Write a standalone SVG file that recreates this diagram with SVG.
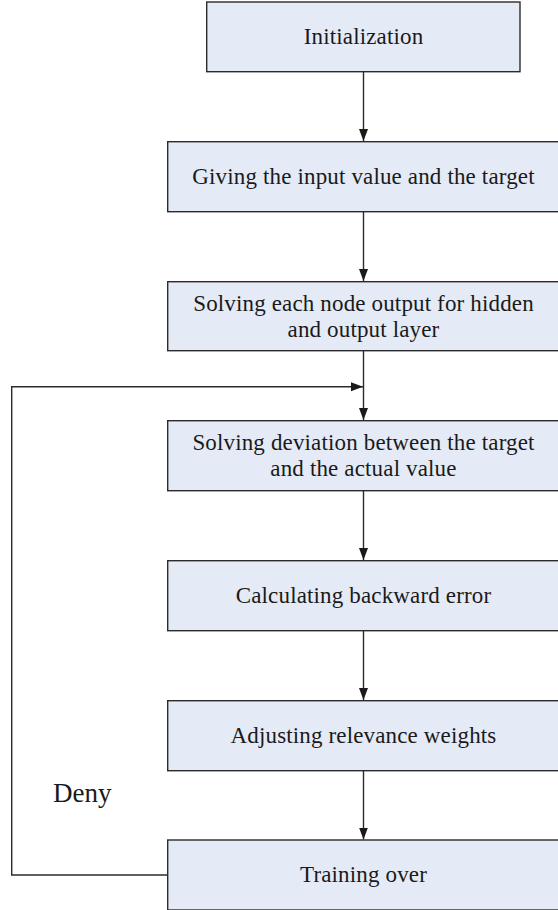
<svg xmlns="http://www.w3.org/2000/svg" width="558" height="910" viewBox="0 0 558 910">
<style>
.box{fill:#e5ebf6;stroke:#2b2b2b;stroke-width:1.4}
.t{font-family:"Liberation Serif","Times New Roman",serif;font-size:23px;fill:#1a1a1a;text-anchor:middle;letter-spacing:0.15px}
.lbl{font-family:"Liberation Serif","Times New Roman",serif;font-size:27px;fill:#1a1a1a}
.c{fill:none;stroke:#2b2b2b;stroke-width:1.4}
</style>
<defs>
<marker id="ah" markerUnits="userSpaceOnUse" markerWidth="12" markerHeight="12" viewBox="0 0 12 12" refX="12" refY="6" orient="auto">
<path d="M0,1.5 L12,6 L0,10.5 Z" fill="#1a1a1a"/>
</marker>
</defs>
<rect width="558" height="910" fill="#ffffff"/>
<g id="connectors">
<line class="c" x1="363.5" y1="71.7" x2="363.5" y2="141" marker-end="url(#ah)"/>
<line class="c" x1="363.5" y1="211.7" x2="363.5" y2="281" marker-end="url(#ah)"/>
<line class="c" x1="363.5" y1="350.7" x2="363.5" y2="420" marker-end="url(#ah)"/>
<line class="c" x1="363.5" y1="490.7" x2="363.5" y2="560" marker-end="url(#ah)"/>
<line class="c" x1="363.5" y1="630.7" x2="363.5" y2="700" marker-end="url(#ah)"/>
<line class="c" x1="363.5" y1="770.7" x2="363.5" y2="839.5" marker-end="url(#ah)"/>
<polyline class="c" points="167.7,875 11.7,875 11.7,386.7 363,386.7" marker-end="url(#ah)"/>
</g>
<g id="n1"><rect class="box" x="206.7" y="2" width="313.3" height="69.7"/><text class="t" x="363.5" y="44.3">Initialization</text></g>
<g id="n2"><rect class="box" x="167.7" y="141.7" width="392" height="70"/><text class="t" x="363.5" y="184">Giving the input value and the target</text></g>
<g id="n3"><rect class="box" x="167.7" y="281.7" width="392" height="69"/><text class="t" x="363.5" y="310.7">Solving each node output for hidden</text><text class="t" x="363.5" y="336.7">and output layer</text></g>
<g id="n4"><rect class="box" x="167.7" y="420.7" width="392" height="70"/><text class="t" x="363.5" y="449.7">Solving deviation between the target</text><text class="t" x="363.5" y="475.7">and the actual value</text></g>
<g id="n5"><rect class="box" x="167.7" y="560.7" width="392" height="70"/><text class="t" x="363.5" y="603.3">Calculating backward error</text></g>
<g id="n6"><rect class="box" x="167.7" y="700.7" width="392" height="70"/><text class="t" x="363.5" y="743.3">Adjusting relevance weights</text></g>
<g id="n7"><rect class="box" x="167.7" y="840" width="392" height="70"/><text class="t" x="363.5" y="881.7">Training over</text></g>
<g id="label-deny"><text class="lbl" x="53" y="801.7">Deny</text></g>
</svg>
